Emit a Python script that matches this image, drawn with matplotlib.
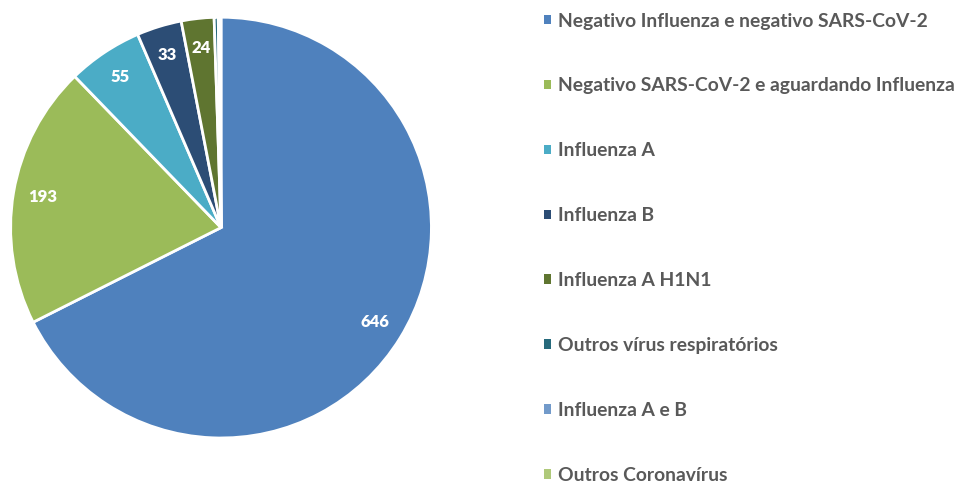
import matplotlib.pyplot as plt
from matplotlib.patches import Patch

categories = ['Negativo Influenza e negativo SARS-CoV-2',
              'Negativo SARS-CoV-2 e aguardando Influenza',
              'Influenza A',
              'Influenza B',
              'Influenza A H1N1',
              'Outros vírus respiratórios',
              'Influenza A e B',
              'Outros Coronavírus']
values = [646, 193, 55, 33, 24, 3, 1, 1]
labels = ['646', '193', '55', '33', '24', '', '', '']
colors = ['#4F81BD', '#9BBB59', '#4BACC6', '#2C4D75', '#5F7530',
          '#276A7C', '#729ACA', '#AFC97A']


def main():
    plt.rcParams['font.family'] = ['Lato', 'DejaVu Sans']
    fig = plt.figure(figsize=(9.62, 4.82), dpi=100)
    ax = fig.add_axes([0.0104, 0.0913, 0.4387, 0.873])

    wedges, texts = ax.pie(values, labels=labels, colors=colors, startangle=90,
                           counterclock=False, labeldistance=0.86,
                           wedgeprops=dict(edgecolor='white', linewidth=2),
                           textprops=dict(color='white', fontsize=12, fontweight='heavy'))
    for t in texts:
        t.set_horizontalalignment('center')
        t.set_verticalalignment('center')
    ax.set_xlim(-1.0, 1.0)
    ax.set_ylim(-1.0, 1.0)
    ax.set_aspect('equal')

    handles = [Patch(facecolor=c, edgecolor='none') for c in colors]
    fig.legend(handles, categories, loc='upper left', bbox_to_anchor=(0.5655, 0.974),
               frameon=False, handlelength=0.38, handleheight=0.38, handletextpad=0.35,
               labelspacing=2.48, borderaxespad=0, borderpad=0,
               prop=dict(family=['Lato', 'DejaVu Sans'], weight='bold', size=13.9),
               labelcolor='#595959')

    fig.savefig('out.png', dpi=100)


if __name__ == "__main__":
    main()
